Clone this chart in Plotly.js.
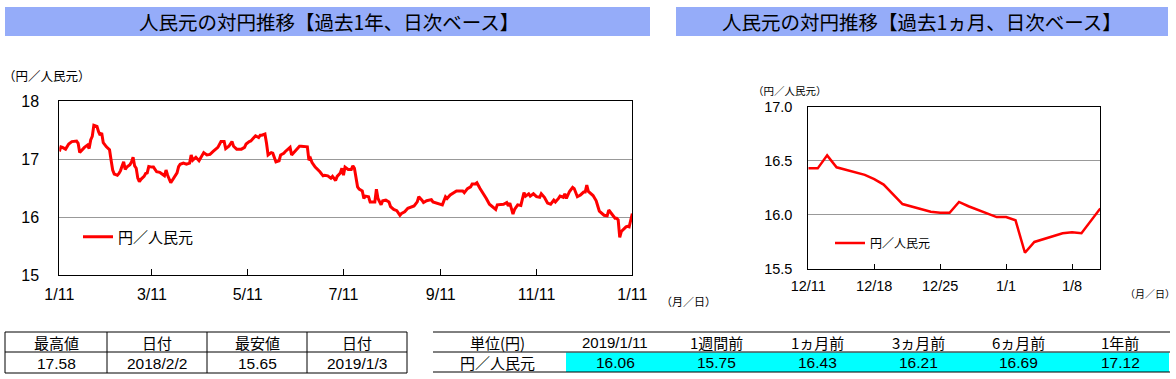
<!DOCTYPE html>
<html><head><meta charset="utf-8">
<script src="https://cdn.plot.ly/plotly-3.0.1.min.js"></script>
<style>html,body{margin:0;padding:0;background:#fff;}#chart{width:1176px;height:379px;}</style>
</head><body><div id="chart"></div>
<script>
// ---------- DATA ----------
const yearDates = [
'2018-01-11','2018-01-12','2018-01-13','2018-01-15','2018-01-17','2018-01-19','2018-01-22','2018-01-23','2018-01-24','2018-01-26',
'2018-01-27','2018-01-29','2018-01-30','2018-01-31','2018-02-01','2018-02-02','2018-02-04','2018-02-05','2018-02-06','2018-02-07',
'2018-02-08','2018-02-10','2018-02-12','2018-02-13','2018-02-14','2018-02-15','2018-02-17','2018-02-18','2018-02-19','2018-02-20',
'2018-02-21','2018-02-22','2018-02-23','2018-02-25','2018-02-26','2018-02-27','2018-02-28','2018-03-01','2018-03-02','2018-03-03',
'2018-03-04','2018-03-06','2018-03-07','2018-03-08','2018-03-09','2018-03-11','2018-03-12','2018-03-14','2018-03-16','2018-03-17',
'2018-03-19','2018-03-20','2018-03-21','2018-03-23','2018-03-24','2018-03-26','2018-03-27','2018-03-28','2018-03-29','2018-03-31',
'2018-04-02','2018-04-04','2018-04-05','2018-04-06','2018-04-08','2018-04-10','2018-04-12','2018-04-13','2018-04-15','2018-04-17',
'2018-04-19','2018-04-21','2018-04-22','2018-04-24','2018-04-26','2018-04-27','2018-04-29','2018-05-01','2018-05-02','2018-05-04',
'2018-05-06','2018-05-07','2018-05-09','2018-05-10','2018-05-12','2018-05-13','2018-05-15','2018-05-16','2018-05-18','2018-05-19',
'2018-05-20','2018-05-22','2018-05-23','2018-05-24','2018-05-26','2018-05-27','2018-05-29','2018-05-31','2018-06-01','2018-06-03',
'2018-06-04','2018-06-06','2018-06-07','2018-06-08','2018-06-10','2018-06-12','2018-06-13','2018-06-14','2018-06-16','2018-06-18',
'2018-06-19','2018-06-20','2018-06-21','2018-06-23','2018-06-26','2018-06-28','2018-06-29','2018-07-01','2018-07-03','2018-07-04',
'2018-07-06','2018-07-07','2018-07-09','2018-07-10','2018-07-11','2018-07-12','2018-07-14','2018-07-16','2018-07-17','2018-07-18',
'2018-07-20','2018-07-21','2018-07-23','2018-07-24','2018-07-25','2018-07-27','2018-07-28','2018-07-30','2018-07-31','2018-08-01',
'2018-08-02','2018-08-04','2018-08-05','2018-08-07','2018-08-09','2018-08-10','2018-08-12','2018-08-14','2018-08-16','2018-08-17',
'2018-08-19','2018-08-21','2018-08-23','2018-08-25','2018-08-27','2018-08-28','2018-08-30','2018-08-31','2018-09-02','2018-09-05',
'2018-09-06','2018-09-08','2018-09-11','2018-09-12','2018-09-14','2018-09-15','2018-09-17','2018-09-19','2018-09-21','2018-09-23',
'2018-09-25','2018-09-26','2018-09-28','2018-09-30','2018-10-01','2018-10-03','2018-10-04','2018-10-06','2018-10-08','2018-10-10',
'2018-10-12','2018-10-14','2018-10-16','2018-10-17','2018-10-19','2018-10-21','2018-10-23','2018-10-24','2018-10-25','2018-10-27',
'2018-10-28','2018-10-30','2018-11-01','2018-11-03','2018-11-04','2018-11-06','2018-11-07','2018-11-09','2018-11-11','2018-11-13',
'2018-11-14','2018-11-16','2018-11-18','2018-11-20','2018-11-22','2018-11-23','2018-11-25','2018-11-26','2018-11-28','2018-11-29',
'2018-11-30','2018-12-02','2018-12-04','2018-12-05','2018-12-07','2018-12-09','2018-12-11','2018-12-12','2018-12-13','2018-12-14',
'2018-12-17','2018-12-18','2018-12-19','2018-12-20','2018-12-21','2018-12-24','2018-12-25','2018-12-26','2018-12-27','2018-12-28',
'2018-12-31','2019-01-01','2019-01-02','2019-01-03','2019-01-04','2019-01-07','2019-01-08','2019-01-09','2019-01-10','2019-01-11'];
const yearValues = [
17.13,17.21,17.20,17.17,17.26,17.30,17.31,17.27,17.11,17.17,
17.20,17.24,17.18,17.33,17.39,17.58,17.56,17.47,17.41,17.45,
17.28,17.21,17.16,16.98,16.81,16.74,16.72,16.75,16.80,16.88,
16.95,16.82,16.86,16.90,16.95,17.03,16.88,16.84,16.67,16.61,
16.65,16.70,16.75,16.76,16.87,16.86,16.86,16.78,16.77,16.75,
16.71,16.81,16.72,16.59,16.63,16.71,16.76,16.87,16.91,16.93,
16.91,16.93,17.07,16.98,17.03,16.97,17.07,17.11,17.07,17.08,
17.13,17.17,17.20,17.30,17.30,17.18,17.22,17.30,17.22,17.17,
17.17,17.17,17.20,17.26,17.30,17.31,17.37,17.40,17.37,17.41,
17.41,17.43,17.27,17.07,17.11,17.10,16.95,16.97,17.07,17.10,
17.13,17.18,17.20,17.07,17.13,17.18,17.22,17.22,17.21,17.21,
16.98,17.01,16.94,16.86,16.78,16.71,16.72,16.71,16.67,16.70,
16.63,16.70,16.76,16.84,16.72,16.86,16.82,16.82,16.88,16.84,
16.52,16.48,16.45,16.32,16.36,16.35,16.26,16.26,16.26,16.48,
16.32,16.21,16.28,16.29,16.26,16.18,16.13,16.11,16.03,16.06,
16.09,16.15,16.17,16.19,16.26,16.35,16.29,16.25,16.28,16.30,
16.26,16.24,16.22,16.21,16.35,16.32,16.38,16.41,16.45,16.45,
16.45,16.42,16.49,16.52,16.57,16.57,16.59,16.49,16.41,16.32,
16.22,16.17,16.13,16.21,16.21,16.22,16.25,16.19,16.24,16.05,
16.13,16.21,16.20,16.42,16.36,16.40,16.36,16.40,16.35,16.34,
16.40,16.34,16.24,16.22,16.29,16.26,16.32,16.36,16.34,16.40,
16.32,16.44,16.51,16.49,16.35,16.38,16.43,16.43,16.55,16.44,
16.37,16.33,16.28,16.19,16.10,16.03,16.02,16.02,16.12,16.08,
15.98,15.98,15.95,15.65,15.75,15.83,15.84,15.83,15.95,16.06];

const monthDates = ['2018-12-11','2018-12-12','2018-12-13','2018-12-14','2018-12-17','2018-12-18','2018-12-19','2018-12-20','2018-12-21',
'2018-12-24','2018-12-25','2018-12-26','2018-12-27','2018-12-28','2018-12-31','2019-01-01','2019-01-02','2019-01-03','2019-01-04',
'2019-01-07','2019-01-08','2019-01-09','2019-01-10','2019-01-11'];
const monthValues = [16.43,16.43,16.55,16.44,16.37,16.33,16.28,16.19,16.10,
16.03,16.02,16.02,16.12,16.08,15.98,15.98,15.95,15.65,15.75,
15.83,15.84,15.83,15.95,16.06];

const yearTickVals = ['2018-01-11','2018-03-11','2018-05-11','2018-07-11','2018-09-11','2018-11-11','2019-01-11'];
const yearTickText = ['1/11','3/11','5/11','7/11','9/11','11/11','1/11'];
const monthTickVals = ['2018-12-11','2018-12-18','2018-12-25','2019-01-01','2019-01-08'];
const monthTickText = ['12/11','12/18','12/25','1/1','1/8'];

const seriesName = '円／人民元';
const titleYear = '人民元の対円推移【過去1年、日次ベース】';
const titleMonth = '人民元の対円推移【過去1ヵ月、日次ベース】';
const unitLabel = '（円／人民元）';
const dateLabel = '（月／日）';

const statHeaders = ['最高値','日付','最安値','日付'];
const statValues = ['17.58','2018/2/2','15.65','2019/1/3'];
const compHeaders = ['単位(円)','2019/1/11','1週間前','1ヵ月前','3ヵ月前','6ヵ月前','1年前'];
const compRowLabel = '円／人民元';
const compValues = [16.06,15.75,16.43,16.21,16.69,17.12];

// ---------- LAYOUT HELPERS ----------
const W = 1176, H = 379;
const px = x => x / W;
const py = y => 1 - y / H;
const JP = 'Noto Sans CJK JP, sans-serif';
const NUM = 'Liberation Sans, Arial, Noto Sans CJK JP, sans-serif';

const shapes = [];
const annotations = [];
function rect(x0,y0,x1,y1,fill){shapes.push({type:'rect',xref:'paper',yref:'paper',x0:px(x0),x1:px(x1),y0:py(y1),y1:py(y0),fillcolor:fill,line:{width:0},layer:'below'});}
function line(x0,y0,x1,y1){shapes.push({type:'line',xref:'paper',yref:'paper',x0:px(x0),x1:px(x1),y0:py(y0),y1:py(y1),line:{color:'#000',width:1}});}
function text(t,x,y,size,fam,anchor){annotations.push({text:t,xref:'paper',yref:'paper',x:px(x),y:py(y),xanchor:anchor||'center',yanchor:'middle',showarrow:false,borderpad:0,font:{family:fam||JP,size:size,color:'#000'}});}

// title bars
rect(5,7,650,36,'#95acf9');
rect(676,7,1168,36,'#95acf9');
text(titleYear,329,21.5,19.5,JP);
text(titleMonth,922,21.5,19.5,JP);

// unit labels
text(unitLabel,2,75,12.5,JP,'left');
text(unitLabel,752,90,10.5,JP,'left');
text(dateLabel,660,301,11,JP,'left');
text(dateLabel,1124,293,10,JP,'left');

// table 1
const t1x = [5,107,207,307,407];
[332,352,373].forEach(y=>line(5,y,407,y));
t1x.forEach(x=>line(x,332,x,373));
statHeaders.forEach((h,i)=>text(h,(t1x[i]+t1x[i+1])/2,342,15,JP));
statValues.forEach((v,i)=>text(v,(t1x[i]+t1x[i+1])/2,363,15.5,NUM));

// table 2
rect(566,352.5,1169,372,'#00ffff');
[332,352,372].forEach(y=>line(433,y,1170,y));
const t2c = [497,615,716,817,918,1018,1120];
compHeaders.forEach((h,i)=>text(h,t2c[i],342,15,i===1?NUM:JP));
text(compRowLabel,t2c[0],362.5,15,JP);
compValues.forEach((v,i)=>text(v.toFixed(2),t2c[i+1],362.5,15.5,NUM));

const traces = [
 {x:yearDates,y:yearValues,type:'scatter',mode:'lines',name:seriesName,line:{color:'#ff0000',width:3},xaxis:'x',yaxis:'y',legend:'legend'},
 {x:monthDates,y:monthValues,type:'scatter',mode:'lines',name:seriesName,line:{color:'#ff0000',width:2.5},xaxis:'x2',yaxis:'y2',legend:'legend2'}
];

const axBase = {showline:true,mirror:true,linecolor:'#000',linewidth:1,zeroline:false,fixedrange:true};
const layout = {
 width:W,height:H,margin:{l:0,r:0,t:0,b:0},paper_bgcolor:'#fff',plot_bgcolor:'#fff',
 showlegend:true,
 xaxis:Object.assign({},axBase,{domain:[px(59.3),px(632.3)],anchor:'y',type:'date',range:['2018-01-11','2019-01-11'],
   tickmode:'array',tickvals:yearTickVals,ticktext:yearTickText,ticks:'inside',ticklen:6,tickcolor:'#000',showgrid:false,
   tickfont:{family:NUM,size:16,color:'#000'},ticklabelstandoff:5}),
 yaxis:Object.assign({},axBase,{domain:[py(275),py(101)],anchor:'x',range:[15,18],tickmode:'array',tickvals:[15,16,17,18],
   showgrid:true,gridcolor:'#999',gridwidth:1,ticks:'',tickfont:{family:NUM,size:16,color:'#000'},ticklabelstandoff:16}),
 xaxis2:Object.assign({},axBase,{domain:[px(808.3),px(1100.3)],anchor:'y2',type:'date',range:['2018-12-11','2019-01-11'],
   tickmode:'array',tickvals:monthTickVals,ticktext:monthTickText,ticks:'inside',ticklen:5,tickcolor:'#000',showgrid:false,
   tickfont:{family:NUM,size:14.5,color:'#000'},ticklabelstandoff:4}),
 yaxis2:Object.assign({},axBase,{domain:[py(269),py(106.7)],anchor:'x2',range:[15.5,17.0],tickmode:'array',tickvals:[15.5,16,16.5,17],
   tickformat:'.1f',showgrid:true,gridcolor:'#999',gridwidth:1,ticks:'',tickfont:{family:NUM,size:14.5,color:'#000'},ticklabelstandoff:12}),
 legend:{x:px(78),y:py(237),xanchor:'left',yanchor:'middle',bgcolor:'rgba(0,0,0,0)',borderwidth:0,font:{family:JP,size:15,color:'#000'}},
 legend2:{x:px(830),y:py(243),xanchor:'left',yanchor:'middle',bgcolor:'rgba(0,0,0,0)',borderwidth:0,font:{family:JP,size:12,color:'#000'}},
 shapes:shapes,annotations:annotations
};
Plotly.newPlot('chart',traces,layout,{displayModeBar:false,staticPlot:true});
</script></body></html>
